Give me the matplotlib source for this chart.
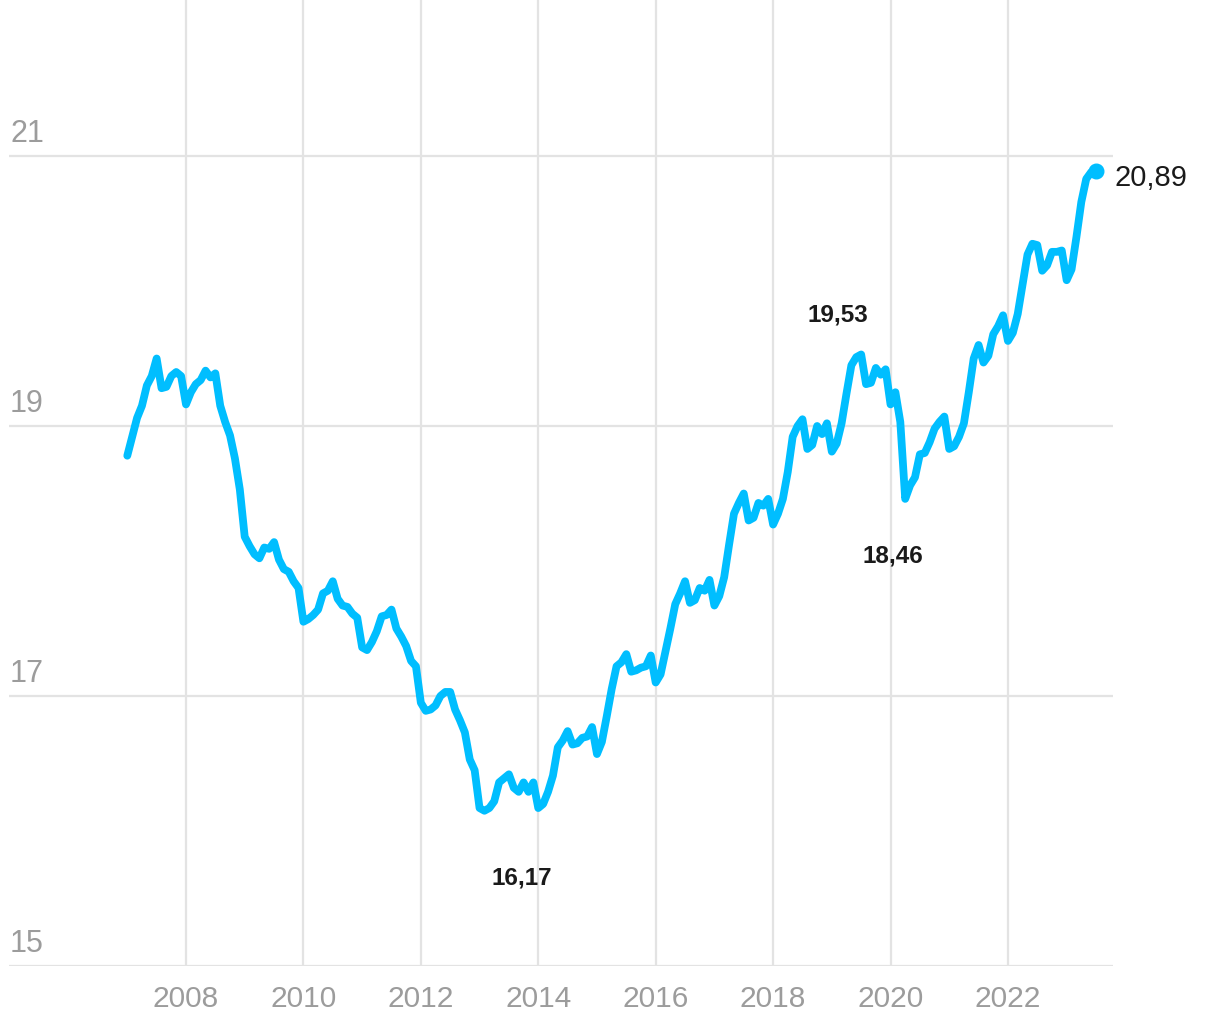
import numpy as np
import matplotlib
matplotlib.use('Agg')
import matplotlib.pyplot as plt

plt.rcParams['font.family'] = ['Liberation Sans', 'DejaVu Sans']

# monthly values, Jan 2007 - Jul 2023 (millions)
start_year = 2007
values = [
    # 2007
    18.78, 18.92, 19.06, 19.15, 19.30, 19.37, 19.50, 19.28, 19.29, 19.37, 19.40, 19.37,
    # 2008
    19.16, 19.25, 19.31, 19.34, 19.41, 19.36, 19.39, 19.15, 19.03, 18.93, 18.76, 18.53,
    # 2009
    18.18, 18.11, 18.05, 18.02, 18.10, 18.09, 18.14, 18.01, 17.94, 17.92, 17.85, 17.80,
    # 2010
    17.55, 17.57, 17.60, 17.64, 17.76, 17.78, 17.85, 17.72, 17.67, 17.66, 17.61, 17.58,
    # 2011
    17.36, 17.34, 17.40, 17.48, 17.59, 17.60, 17.64, 17.50, 17.44, 17.37, 17.26, 17.22,
    # 2012
    16.95, 16.89, 16.90, 16.93, 17.00, 17.03, 17.03, 16.90, 16.82, 16.73, 16.53, 16.45,
    # 2013
    16.17, 16.15, 16.17, 16.22, 16.36, 16.39, 16.42, 16.32, 16.29, 16.36, 16.29, 16.36,
    # 2014
    16.17, 16.20, 16.29, 16.41, 16.62, 16.67, 16.74, 16.64, 16.65, 16.69, 16.70, 16.77,
    # 2015
    16.57, 16.66, 16.85, 17.05, 17.22, 17.25, 17.31, 17.18, 17.19, 17.21, 17.22, 17.30,
    # 2016
    17.10, 17.16, 17.33, 17.50, 17.68, 17.76, 17.85, 17.69, 17.71, 17.80, 17.78, 17.86,
    # 2017
    17.67, 17.74, 17.88, 18.12, 18.35, 18.43, 18.50, 18.30, 18.32, 18.43, 18.41, 18.46,
    # 2018
    18.27, 18.35, 18.46, 18.66, 18.92, 19.00, 19.05, 18.83, 18.86, 19.00, 18.94, 19.02,
    # 2019
    18.81, 18.87, 19.02, 19.24, 19.45, 19.51, 19.53, 19.31, 19.32, 19.43, 19.38, 19.42,
    # 2020
    19.16, 19.25, 19.03, 18.46, 18.56, 18.62, 18.79, 18.80, 18.88, 18.98, 19.03, 19.07,
    # 2021
    18.83, 18.85, 18.92, 19.02, 19.25, 19.50, 19.60, 19.47, 19.52, 19.68, 19.74, 19.82,
    # 2022
    19.63, 19.69, 19.83, 20.05, 20.27, 20.35, 20.34, 20.15, 20.19, 20.29, 20.29, 20.30,
    # 2023
    20.08, 20.16, 20.40, 20.66, 20.83, 20.88, 20.89,
]
yticks = [15, 17, 19, 21]
xticks = [2008, 2010, 2012, 2014, 2016, 2018, 2020, 2022]

# labels: (index into values, text, offset in pixels)
labels = [
    (150, '19,53', (-23, 40)),
    (159, '18,46', (-12, -56)),
    (84, '16,17', (-16, -69)),
]

x = start_year + np.arange(len(values)) / 12.0

BLUE = '#00BEFF'
GRID = '#e3e3e3'
GREY = '#9c9c9c'

fig = plt.figure(figsize=(12.2, 10.2), dpi=100)
ax = fig.add_axes([9 / 1220, 53 / 1020, (1113 - 9) / 1220, 1 - 53 / 1020])

for yt in yticks:
    ax.axhline(yt, color=GRID, lw=1.6, zorder=1)
    ax.annotate(str(yt), xy=(0, yt), xycoords=('axes fraction', 'data'),
                xytext=(1, 8), textcoords='offset pixels',
                ha='left', va='bottom', fontsize=22, color=GREY)
for xt in xticks:
    ax.axvline(xt, color=GRID, lw=1.6, zorder=1)

ax.plot(x, values, color=BLUE, lw=5.6, solid_joinstyle='round',
        solid_capstyle='round', zorder=3)
ax.plot(x[-1], values[-1], 'o', color=BLUE, ms=10.5, zorder=4)

for i, txt, off in labels:
    ax.annotate(txt, xy=(x[i], values[i]), xytext=off, textcoords='offset pixels',
                ha='center', va='center', fontsize=17.5,
                fontweight='bold', color='#1a1a1a')

ax.annotate('20,89', xy=(x[-1], values[-1]), xytext=(18, -6),
            textcoords='offset pixels', ha='left', va='center',
            fontsize=21, color='#1a1a1a', annotation_clip=False)

ax.set_xlim(2008 + (9 - 186) / 58.71, 2008 + (1113 - 186) / 58.71)
ax.set_ylim(15, 21 + 157 / 135)
ax.set_xticks(xticks)
ax.set_xticklabels([str(t) for t in xticks], fontsize=21.5, color=GREY)
ax.set_yticks([])
ax.tick_params(axis='x', length=0, pad=13)
for s in ax.spines.values():
    s.set_visible(False)

fig.savefig('out.png', dpi=100)
